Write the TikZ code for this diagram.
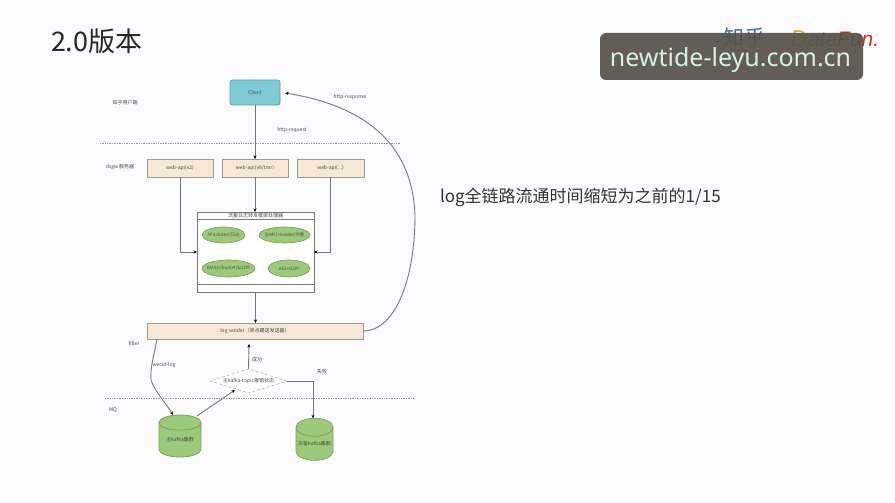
\documentclass[tikz,border=0pt]{standalone}
\usepackage{fontspec}
\setmainfont{Noto Sans CJK SC}
\newfontfamily\wmfont{Noto Sans}
\newfontfamily\logofont{Liberation Sans}
\usetikzlibrary{shapes.geometric,arrows.meta}
\definecolor{bgc}{HTML}{FBFBFD}
\definecolor{peach}{HTML}{F6E8D6}
\definecolor{peachl}{HTML}{A09A8C}
\definecolor{cyanf}{HTML}{7FCBD6}
\definecolor{cyanl}{HTML}{5A9CA4}
\definecolor{greenf}{HTML}{9CC97A}
\definecolor{greenl}{HTML}{7FA060}
\definecolor{linec}{HTML}{777777}
\definecolor{txt}{HTML}{4A4A4A}
\definecolor{wmbg}{HTML}{57534A}
\definecolor{wmtx}{HTML}{D6F0E2}
\definecolor{zhc}{HTML}{3F6F9E}
\definecolor{dfo}{HTML}{E8A92A}
\definecolor{dfr}{HTML}{C8322A}
\tikzset{
  px/.style={inner sep=0pt,outer sep=0pt},
  small/.style={px,font=\fontsize{5}{6}\selectfont,text=txt},
  apibox/.style={small,draw=peachl,fill=peach,line width=0.8pt},
  oval/.style={px,ellipse,draw=greenl,fill=greenf,line width=0.7pt},
  conn/.style={draw=linec,line width=0.9pt,-{Stealth[length=3.5pt,width=3pt,black]}},
  divider/.style={draw=black!40,line width=0.7pt,densely dotted},
  barrel/.style={small,cylinder,shape border rotate=90,aspect=0.55,draw=greenl,fill=greenf,line width=0.8pt}
}
\begin{document}
\begin{tikzpicture}[x=1pt,y=-1pt]
\path[use as bounding box,fill=bgc] (0,0) rectangle (895,503);
% headings
\node[px,anchor=west,font=\fontsize{27}{32}\selectfont,text=black!85] (title) at (51,41) {2.0版本};
\node[px,anchor=west,font=\fontsize{17}{20}\selectfont,text=black!80] (note) at (440,197) {log全链路流通时间缩短为之前的1/15};
% logos
\node[px,anchor=center,font=\fontsize{21}{24}\selectfont,text=zhc] (zhihu) at (744,38) {知乎};
\node[px,anchor=west,font=\logofont\itshape\fontsize{21}{22}\selectfont,text=dfo!80!black] (datafun) at (808,39) {ata\textcolor{dfr}{Fun.}};
\node[px,anchor=east,font=\logofont\itshape\fontsize{23}{24}\selectfont,text=dfo] (dlogo) at (807,39) {D};
% dividers
\coordinate (d1a) at (100,143); \coordinate (d1b) at (400,143);
\coordinate (d2a) at (105,398); \coordinate (d2b) at (415,398);
\draw[divider] (d1a) -- (d1b);
\draw[divider] (d2a) -- (d2b);
% client and APIs
\node[small,draw=cyanl,fill=cyanf,rounded corners=2.5pt,line width=0.8pt,minimum width=50pt,minimum height=25pt] (client) at (255,92.5) {Client};
\node[apibox,minimum width=66pt,minimum height=18pt] (api1) at (180,168) {web-api(v2)};
\node[apibox,minimum width=66pt,minimum height=18pt] (api2) at (255,168) {web-api(v8/tmr)};
\node[apibox,minimum width=67pt,minimum height=18pt] (api3) at (330.5,168) {web-api(...)};
% processor container
\node[px,draw=linec,fill=white,line width=0.8pt,minimum width=117pt,minimum height=80pt] (proc) at (255.5,252) {};
\coordinate (pt1) at (197,219); \coordinate (pt2) at (314,219);
\coordinate (pb1) at (197,284); \coordinate (pb2) at (314,284);
\draw[linec,line width=0.8pt] (pt1) -- (pt2) (pb1) -- (pb2);
\node[small] (proct) at (255.5,215.5) {流量日志转发框架处理器};
\node[oval,minimum width=43pt,minimum height=16pt] (e1) at (223.5,235) {};
\node[oval,minimum width=51pt,minimum height=16pt] (e2) at (284.5,235) {};
\node[oval,minimum width=53pt,minimum height=17pt] (e3) at (228.5,268.5) {};
\node[oval,minimum width=42pt,minimum height=17pt] (e4) at (289,268.5) {};
\node[small,font=\fontsize{4.4}{5}\selectfont] (e1t) at (e1) {API(cluster)日志};
\node[small,font=\fontsize{4.4}{5}\selectfont] (e2t) at (e2) {全API(+header)完整};
\node[small,font=\fontsize{4.4}{5}\selectfont] (e3t) at (e3) {BIAS3-(bucket)\&GZIP};
\node[small,font=\fontsize{4.4}{5}\selectfont] (e4t) at (e4) {AES+GZIP};
% sender
\node[apibox,minimum width=216pt,minimum height=16pt] (sender) at (255,331) {log sender（单点踢送发送器）};
% diamond
\node[px,diamond,aspect=3.2,draw=black!30,fill=white,line width=0.6pt,densely dashed,minimum width=77pt,minimum height=24pt] (check) at (248.5,381) {};
\node[small] (checkt) at (248.5,381) {主kafka-topic报错状态};
% barrels
\node[barrel,minimum width=42pt,minimum height=42pt] (kafka1) at (180,440) {主kafka集群};
\node[barrel,minimum width=37pt,minimum height=42pt] (kafka2) at (314.5,444) {灾备kafka集群};
% connectors
\draw[conn] (client.south) -- (api2.north);
\coordinate (l1) at (180,252); \coordinate (l3) at (330.5,252);
\draw[conn] (api1.south) -- (l1) -- (proc.west);
\draw[conn] (api3.south) -- (l3) -- (proc.east);
\draw[conn] (api2.south) -- (proc.north -| api2.south);
\draw[conn] (proc.south) -- (sender.north -| proc.south);
\coordinate (c1) at (157,339);
\coordinate (c2) at (151,380);
\coordinate (c3) at (173,415);
\draw[conn] (c1) .. controls (154,355) and (150,368) .. (c2) .. controls (155,392) and (166,403) .. (c3);
\coordinate (a1) at (197,416); \coordinate (a2) at (235,390);
\draw[conn] (a1) -- (a2);
\coordinate (s1) at (249,344);
\draw[conn] (check.north) -- (s1);
\coordinate (f1) at (313,381);
\draw[conn] (check.east) -- (f1) -- (kafka2.north -| f1);
\coordinate (r1) at (285,93);
\coordinate (r2) at (415,215);
\draw[conn] (sender.east) .. controls (395,331) and (415,280) .. (r2) .. controls (412,140) and (360,105) .. (r1);
% labels
\node[small] (l-user) at (125,103) {知乎用户端};
\node[small] (l-dsgw) at (120,167) {dsgw 服务器};
\node[small] (l-req) at (292,130) {http-request};
\node[small] (l-resp) at (350,97) {http-response};
\node[small] (l-flter) at (134,344) {filter};
\node[small] (l-wal) at (164,365) {wecid-log};
\node[small] (l-ok) at (257,360) {成功};
\node[small] (l-fail) at (322,372) {失败};
\node[small] (l-mq) at (113,410) {MQ};
% watermark
\node[px,fill=wmbg,fill opacity=0.93,rounded corners=6pt,minimum width=263pt,minimum height=47pt] (wm) at (731.5,56.5) {};
\node[px,text=wmtx,font=\wmfont\fontsize{25}{28}\selectfont] (wmt) at (730.5,60) {newtide-leyu.com.cn};
\end{tikzpicture}
\end{document}
